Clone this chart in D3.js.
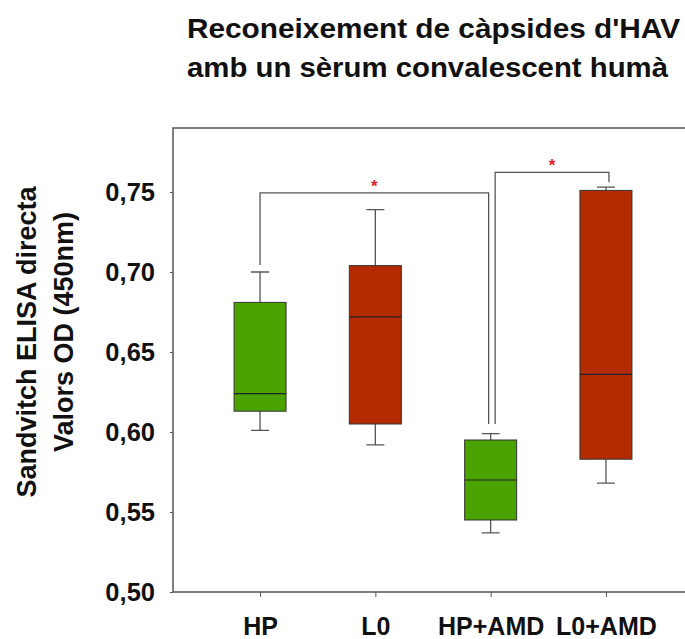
<!DOCTYPE html>
<html>
<head>
<meta charset="utf-8">
<script src="https://cdn.jsdelivr.net/npm/d3@7"></script>
<style>
  body { margin: 0; background: #fff; }
  svg { display: block; font-family: "Liberation Sans", Arial, sans-serif; }
</style>
</head>
<body>
<div id="chart"></div>
<script>
// dades llegides del gràfic
const categories = ["HP", "L0", "HP+AMD", "L0+AMD"];
const whiskerLow = [0.601, 0.592, 0.537, 0.568];
const q1 = [0.613, 0.605, 0.545, 0.583];
const median = [0.624, 0.672, 0.570, 0.636];
const q3 = [0.681, 0.704, 0.595, 0.751];
const whiskerHigh = [0.700, 0.739, 0.599, 0.753];
const groupColors = ["#4ba300", "#b52b00", "#4ba300", "#b52b00"];
const yTicks = [0.50, 0.55, 0.60, 0.65, 0.70, 0.75];

// claudàtors de significació: [des de, fins a, alçada, extrem esquerre, extrem dret]
const brackets = [
  ["HP", "HP+AMD", 0.7495, 0.7044, 0.605],
  ["HP+AMD", "L0+AMD", 0.7623, 0.605, 0.7561]
];

const titleLines = ["Reconeixement de càpsides d'HAV", "amb un sèrum convalescent humà"];
const titleWidths = [493, 481];
const yLabelLines = ["Sandvitch ELISA directa", "Valors OD (450nm)"];

const width = 685, height = 639;
const margin = { top: 128, left: 173, bottom: 592 };

const svg = d3.select("#chart").append("svg")
    .attr("width", width)
    .attr("height", height);

const x = d3.scalePoint()
    .domain(categories)
    .range([margin.left, 693])
    .padding(0.755);

const y = d3.scaleLinear()
    .domain([0.50, 0.79])
    .range([margin.bottom, margin.top]);

// títol
svg.append("g").selectAll("text")
    .data(titleLines)
    .join("text")
    .attr("x", 187)
    .attr("y", (d, i) => 38 + i * 39)
    .attr("font-size", 28.5)
    .attr("font-weight", "bold")
    .attr("fill", "#111")
    .attr("textLength", (d, i) => titleWidths[i])
    .attr("lengthAdjust", "spacingAndGlyphs")
    .text(d => d);

// marc
svg.append("path")
    .attr("fill", "none")
    .attr("stroke", "#555")
    .attr("stroke-width", 1.5)
    .attr("d", `M${width + 10},${margin.top}H${margin.left}V${margin.bottom}H${width + 10}`);

// eix Y
const yAxis = svg.append("g")
    .attr("transform", `translate(${margin.left},0)`)
    .call(d3.axisLeft(y).tickValues(yTicks).tickSize(3).tickPadding(15)
        .tickFormat(d => d3.format(".2f")(d).replace(".", ",")));
yAxis.select(".domain").remove();
yAxis.selectAll(".tick line").attr("stroke", "#555");
yAxis.selectAll(".tick text")
    .attr("font-size", 25.5)
    .attr("font-weight", "bold")
    .attr("fill", "#111")
    .attr("font-family", "Liberation Sans, Arial, sans-serif");

// eix X
const xAxis = svg.append("g")
    .attr("transform", `translate(0,${margin.bottom})`)
    .call(d3.axisBottom(x).tickSize(5).tickPadding(20));
xAxis.select(".domain").remove();
xAxis.selectAll(".tick line").attr("stroke", "#555");
xAxis.selectAll(".tick text")
    .attr("font-size", 25)
    .attr("font-weight", "bold")
    .attr("fill", "#111")
    .attr("font-family", "Liberation Sans, Arial, sans-serif");

// etiqueta Y
svg.append("g").selectAll("text")
    .data(yLabelLines)
    .join("text")
    .attr("transform", (d, i) => `translate(${36 + i * 37},${342 - i * 10}) rotate(-90)`)
    .attr("text-anchor", "middle")
    .attr("font-size", 27)
    .attr("font-weight", "bold")
    .attr("fill", "#111")
    .text(d => d);

// caixes
const boxW = 52, capW = 18;
const boxes = svg.append("g").selectAll("g")
    .data(categories)
    .join("g");

boxes.append("path")
    .attr("fill", "none")
    .attr("stroke", "#555")
    .attr("stroke-width", 1.3)
    .attr("d", (d, i) => {
        const cx = x(d);
        return `M${cx},${y(q3[i])}V${y(whiskerHigh[i])}M${cx - capW / 2},${y(whiskerHigh[i])}H${cx + capW / 2}` +
               `M${cx},${y(q1[i])}V${y(whiskerLow[i])}M${cx - capW / 2},${y(whiskerLow[i])}H${cx + capW / 2}`;
    });

boxes.append("rect")
    .attr("x", d => x(d) - boxW / 2)
    .attr("y", (d, i) => y(q3[i]))
    .attr("width", boxW)
    .attr("height", (d, i) => y(q1[i]) - y(q3[i]))
    .attr("fill", (d, i) => groupColors[i])
    .attr("stroke", "#333")
    .attr("stroke-width", 1);

boxes.append("line")
    .attr("x1", d => x(d) - boxW / 2)
    .attr("x2", d => x(d) + boxW / 2)
    .attr("y1", (d, i) => y(median[i]))
    .attr("y2", (d, i) => y(median[i]))
    .attr("stroke", "#222")
    .attr("stroke-width", 1.2);

// claudàtors
const offsets = [[0, -2], [4.5, 3]];
const br = svg.append("g").selectAll("g")
    .data(brackets)
    .join("g");

br.append("path")
    .attr("fill", "none")
    .attr("stroke", "#555")
    .attr("stroke-width", 1.3)
    .attr("d", (d, i) => {
        const x1 = x(d[0]) + offsets[i][0], x2 = x(d[1]) + offsets[i][1];
        return `M${x1},${y(d[3])}V${y(d[2])}H${x2}V${y(d[4])}`;
    });

br.append("text")
    .attr("x", (d, i) => (x(d[0]) + offsets[i][0] + x(d[1]) + offsets[i][1]) / 2)
    .attr("y", d => y(d[2]) - 1)
    .attr("text-anchor", "middle")
    .attr("font-size", 17)
    .attr("font-weight", "bold")
    .attr("fill", "#e0202a")
    .text("*");
</script>
</body>
</html>
